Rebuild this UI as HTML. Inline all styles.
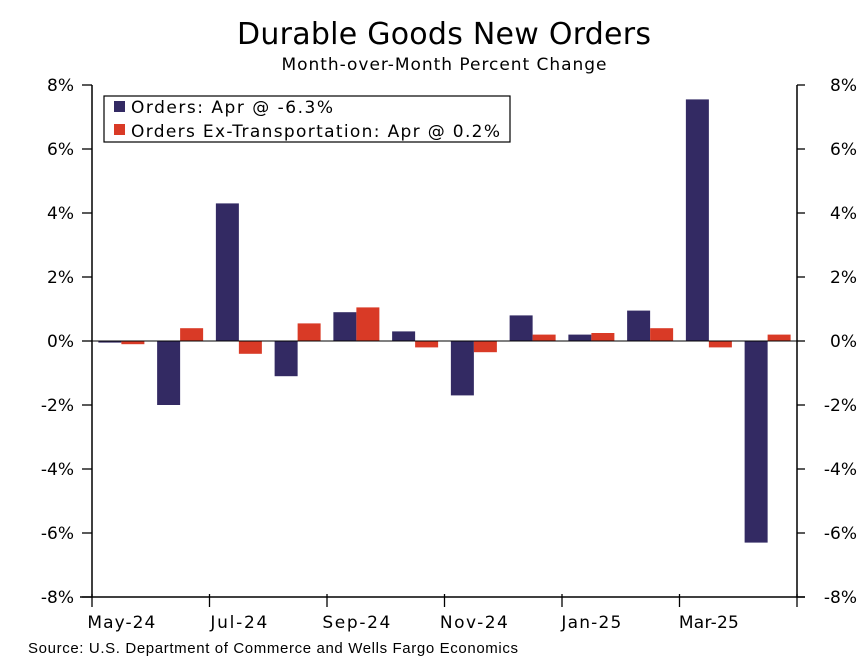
<!DOCTYPE html>
<html><head><meta charset="utf-8"><style>
body{margin:0;background:#fff;}
svg text{font-family:"DejaVu Sans","Liberation Sans",sans-serif;fill:#000;}
</style></head><body>
<svg width="867" height="663" xmlns="http://www.w3.org/2000/svg">
<text x="444" y="44" text-anchor="middle" font-size="30" textLength="414">Durable Goods New Orders</text>
<text x="444" y="70" text-anchor="middle" font-size="17" textLength="325">Month-over-Month Percent Change</text>
<g id="bars"></g>
<g id="axes"></g>
<rect x="104" y="96" width="406" height="46" fill="#fff" stroke="#000" stroke-width="1.2"/>
<rect x="114" y="101" width="11" height="11" fill="#332a63"/>
<text x="131" y="113" font-size="17" textLength="202">Orders: Apr @ -6.3%</text>
<rect x="114" y="124" width="11" height="11" fill="#d93a26"/>
<text x="131" y="137" font-size="17" textLength="369">Orders Ex-Transportation: Apr @ 0.2%</text>
<text x="28" y="653" font-size="15" textLength="490" style="font-family:'Liberation Sans',sans-serif">Source: U.S. Department of Commerce and Wells Fargo Economics</text>
</svg>
<script>
const categories=["May-24","Jun-24","Jul-24","Aug-24","Sep-24","Oct-24","Nov-24","Dec-24","Jan-25","Feb-25","Mar-25","Apr-25"];
const orders=[-0.05,-2.0,4.3,-1.1,0.9,0.3,-1.7,0.8,0.2,0.95,7.55,-6.3];
const exTrans=[-0.1,0.4,-0.4,0.55,1.05,-0.2,-0.35,0.2,0.25,0.4,-0.2,0.2];
const yTicks=[8,6,4,2,0,-2,-4,-6,-8];
const NS="http://www.w3.org/2000/svg";
const L=92,R=797,T=85,B=597;
const y=v=>T+(8-v)/16*(B-T);
const cw=(R-L)/categories.length;
const x=i=>L+i*cw;
const bw=23;
function mk(tag,attrs,parent){const e=document.createElementNS(NS,tag);for(const k in attrs)e.setAttribute(k,attrs[k]);parent.appendChild(e);return e;}
const bars=document.getElementById('bars'),axes=document.getElementById('axes');
categories.forEach((c,i)=>{
  const cx=x(i)+cw/2;
  [[orders[i],"#332a63",cx-bw,"orders"],[exTrans[i],"#d93a26",cx,"ex-transportation"]].forEach(([v,col,bx,nm])=>{
    const r=mk('rect',{x:bx,y:Math.min(y(v),y(0)),width:bw,height:Math.max(Math.abs(y(v)-y(0)),0.8),fill:col},bars);
    
    
  });
  if(i%2===0){
    const t=mk('text',{x:cx,y:628,'text-anchor':'middle','font-size':17,textLength:c.startsWith('Ju')?57:(c.startsWith('Ja')||c.startsWith('Ma')&&c.endsWith('25')?60:68)},axes);t.textContent=c;
    
    
    mk('line',{x1:x(i),x2:x(i),y1:B-3,y2:B+10,stroke:'#000','stroke-width':1.3},axes);
  }
});
mk('line',{x1:R,x2:R,y1:B-3,y2:B+10,stroke:'#000','stroke-width':1.3},axes);
mk('line',{x1:L,x2:R,y1:y(0),y2:y(0),stroke:'#000','stroke-width':1},axes);
mk('line',{x1:L,x2:L,y1:T,y2:B,stroke:'#000','stroke-width':1.5},axes);
mk('line',{x1:R,x2:R,y1:T,y2:B,stroke:'#000','stroke-width':1.5},axes);
mk('line',{x1:L-12,x2:R+8,y1:B,y2:B,stroke:'#000','stroke-width':1.5},axes);
yTicks.forEach(v=>{
  mk('line',{x1:L-10,x2:L,y1:y(v),y2:y(v),stroke:'#000','stroke-width':1.3},axes);
  mk('line',{x1:R,x2:R+8,y1:y(v),y2:y(v),stroke:'#000','stroke-width':1.3},axes);
  const a=mk('text',{x:74,y:y(v)+6,'text-anchor':'end','font-size':17},axes);a.textContent=v+'%';
  
  
  const b=mk('text',{x:857,y:y(v)+6,'text-anchor':'end','font-size':17},axes);b.textContent=v+'%';
  
  
});
</script>
</body></html>
